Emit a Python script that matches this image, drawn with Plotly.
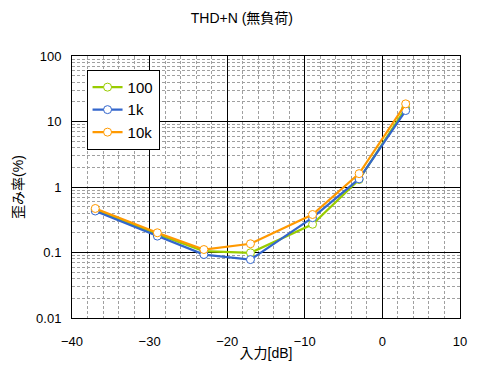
import plotly.graph_objects as go

x_db = [-37, -29, -23, -17, -9, -3, 3]
thd_100 = [0.45, 0.19, 0.105, 0.099, 0.27, 1.3, 16.0]
thd_1k = [0.43, 0.178, 0.093, 0.078, 0.34, 1.33, 14.7]
thd_10k = [0.47, 0.20, 0.111, 0.136, 0.38, 1.6, 18.6]

series = [("100", thd_100, "#99cc00"), ("1k", thd_1k, "#3366cc"), ("10k", thd_10k, "#ff9900")]

font = "Liberation Sans, Noto Sans CJK JP, sans-serif"

fig = go.Figure()
for name, vals, col in series:
    fig.add_trace(go.Scatter(
        x=x_db, y=vals, name=name, mode="lines+markers",
        line=dict(color=col, width=2.2),
        marker=dict(symbol="circle", size=8, color="white", line=dict(color=col, width=1)),
    ))

fig.update_layout(
    width=479, height=382,
    margin=dict(l=72, r=15, t=56, b=64),
    paper_bgcolor="white", plot_bgcolor="white",
    font=dict(family=font, size=13, color="black"),
    title=dict(text="THD+N (無負荷)", x=0.505, xanchor="center", y=0.953, yanchor="middle",
               font=dict(size=14)),
    showlegend=True,
    legend=dict(x=0.0375, y=0.947, xanchor="left", yanchor="top",
                bordercolor="black", borderwidth=1, bgcolor="white",
                font=dict(size=15), tracegroupgap=0, itemwidth=30),
)

fig.update_xaxes(
    range=[-40, 10], dtick=10, tick0=0,
    showline=True, mirror=True, linecolor="black", linewidth=1,
    showgrid=True, gridcolor="black", gridwidth=1,
    zeroline=False, ticks="outside", ticklen=11, tickcolor="rgba(0,0,0,0)",
    tickfont=dict(size=13), ticklabeloverflow="allow",
    minor=dict(dtick=2, showgrid=True, gridcolor="#a0a0a0", griddash="3px,2px", gridwidth=1),
    title=dict(text="入力[dB]", font=dict(size=14), standoff=0),
)
fig.update_yaxes(
    type="log", range=[-2, 2], dtick=1,
    tickvals=[0.01, 0.1, 1, 10, 100], ticktext=["0.01", "0.1", "1", "10", "100"],
    showline=True, mirror=True, linecolor="black", linewidth=1,
    showgrid=True, gridcolor="black", gridwidth=1,
    zeroline=False, ticks="outside", ticklen=7, tickcolor="rgba(0,0,0,0)",
    tickfont=dict(size=13),
    minor=dict(dtick="D1", showgrid=True, gridcolor="#a0a0a0", griddash="3px,2px", gridwidth=1),
    title=dict(text="歪み率(%)", font=dict(size=14), standoff=9),
)

fig.write_html("out.html",
               config={"displayModeBar": False},
               post_script="document.body.style.margin='0';document.body.style.overflow='hidden';")
